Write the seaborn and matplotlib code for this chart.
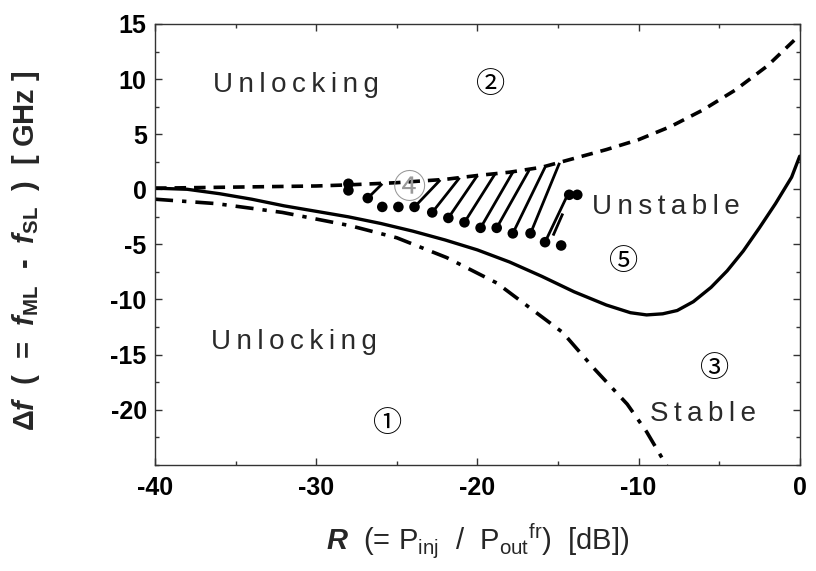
import numpy as np
import pandas as pd
import matplotlib
matplotlib.use("Agg")
import matplotlib.pyplot as plt
from matplotlib.ticker import MultipleLocator, FixedLocator
import seaborn as sns

# ---------------- data ----------------
dashed_x = [-40, -35, -30, -28, -25, -22, -20, -18, -16, -14, -12, -10, -8, -6, -4, -2, 0]
dashed_y = [0.1, 0.2, 0.3, 0.4, 0.6, 0.9, 1.25, 1.55, 2.0, 2.8, 3.6, 4.5, 5.7, 7.2, 9.0, 11.2, 14.0]

solid_x = [-40, -38, -36, -34, -32, -30, -28, -26, -24, -22, -20, -18, -16, -14, -12, -10.5,
           -9.5, -8.5, -7.6, -6.6, -5.5, -4.5, -3.5, -2.5, -1.5, -0.5, 0]
solid_y = [0.1, 0.0, -0.4, -0.9, -1.5, -2.0, -2.5, -3.1, -3.8, -4.6, -5.5, -6.6, -7.9, -9.3, -10.5, -11.2,
           -11.4, -11.3, -11.0, -10.2, -8.9, -7.4, -5.6, -3.5, -1.3, 1.1, 3.0]

dashdot_x = [-40, -36.2, -32.1, -27.9, -25, -21.9, -18.8, -15.7, -14.7, -12.8, -10.7, -9.5, -8.25]
dashdot_y = [-0.9, -1.3, -2.1, -3.3, -4.4, -6.2, -8.5, -11.9, -13.0, -16.2, -19.5, -22.0, -25.1]

dot_x = [-28, -28, -26.8, -25.9, -24.9, -23.9, -22.8, -21.8, -20.8, -19.8, -18.8, -17.8,
         -16.7, -15.8, -14.8, -14.3, -13.8]
dot_y = [0.5, -0.1, -0.8, -1.6, -1.6, -1.6, -2.1, -2.6, -3.0, -3.5, -3.5, -4.0,
         -4.0, -4.8, -5.1, -0.5, -0.5]

seg_x0 = [-26.8, -23.9, -22.8, -21.8, -20.8, -19.8, -18.8, -17.8, -16.7, -15.8, -15.3]
seg_y0 = [-0.8, -1.6, -2.1, -2.6, -3.0, -3.5, -3.5, -4.0, -4.0, -4.8, -4.2]
seg_x1 = [-25.9, -22.3, -21.1, -20.0, -18.9, -17.8, -16.8, -15.8, -14.9, -14.4, -14.7]
seg_y1 = [0.5, 0.85, 1.05, 1.25, 1.4, 1.55, 1.7, 2.0, 2.4, -0.5, -2.2]

labels_txt = ["Unlocking", "Unlocking", "Unstable", "Stable", "①", "②", "③", "④", "⑤"]
labels_x = [-36.4, -36.5, -12.9, -9.3, -25.6, -19.2, -5.3, -24.2, -10.9]
labels_y = [9.5, -13.9, -1.6, -20.4, -21.3, 9.5, -16.3, 0.1, -6.6]

# ---------------- style ----------------
sns.set_style("ticks")
plt.rcParams["font.family"] = ["Liberation Sans", "DejaVu Sans", "Noto Sans CJK JP"]
plt.rcParams["axes.unicode_minus"] = False
plt.rcParams["mathtext.fontset"] = "custom"
plt.rcParams["mathtext.rm"] = "Liberation Sans"
plt.rcParams["mathtext.it"] = "Liberation Sans:bold:italic"
plt.rcParams["mathtext.bf"] = "Liberation Sans:bold"

fig = plt.figure(figsize=(8.16, 5.71), dpi=100)
ax = fig.add_axes([0.19, 0.186, 0.79, 0.772])

df_d = pd.DataFrame({"x": dashed_x, "y": dashed_y})
df_s = pd.DataFrame({"x": solid_x, "y": solid_y})
df_dd = pd.DataFrame({"x": dashdot_x, "y": dashdot_y})

sns.lineplot(data=df_d, x="x", y="y", ax=ax, color="black", lw=2.6, sort=False)
ax.lines[-1].set_dashes((3.2, 2.2))
sns.lineplot(data=df_s, x="x", y="y", ax=ax, color="black", lw=2.4, sort=False)
sns.lineplot(data=df_dd, x="x", y="y", ax=ax, color="black", lw=2.6, sort=False)
ax.lines[-1].set_dashes((5, 2.5, 1.2, 2.5))

for x0, y0, x1, y1 in zip(seg_x0, seg_y0, seg_x1, seg_y1):
    ax.plot([x0, x1], [y0, y1], color="black", lw=2.0, solid_capstyle="butt")

sns.scatterplot(x=dot_x, y=dot_y, ax=ax, color="black", s=58, edgecolor="none", zorder=5)

TS = "\u2009"
for t, x, y in zip(labels_txt, labels_x, labels_y):
    if t in ("①", "②", "③", "④", "⑤"):
        col = "#999999" if t == "④" else "black"
        fs = 24 if t == "④" else 21
        ax.text(x, y, t, fontsize=fs, ha="center", va="center", color=col,
                family=["Noto Sans CJK JP", "DejaVu Sans"], zorder=6)
    else:
        ax.text(x, y, TS.join(t), fontsize=20, ha="left", va="center", color="#2a2a2a")

ax.set_xlim(-40, 0)
ax.set_ylim(-25, 15)
ax.xaxis.set_major_locator(MultipleLocator(10))
ax.xaxis.set_minor_locator(MultipleLocator(5))
ax.yaxis.set_major_locator(FixedLocator([-20, -15, -10, -5, 0, 5, 10, 15]))
ax.yaxis.set_minor_locator(MultipleLocator(2.5))
ax.tick_params(which="both", direction="in", top=True, right=True, colors="#333333")
ax.tick_params(which="major", length=5, width=1, labelsize=18)
ax.tick_params(axis="x", which="major", pad=8)
ax.tick_params(axis="y", which="major", pad=6)
ax.tick_params(which="minor", length=3, width=1)
for lab in ax.get_xticklabels() + ax.get_yticklabels():
    lab.set_fontweight("bold")
    lab.set_color("black")
for sp in ax.spines.values():
    sp.set_linewidth(1.0)
    sp.set_color("#333333")

ax.set_xlabel(r"$R$  (= P$_{\rm inj}$  /  P$_{\rm out}$$^{\rm fr}$)  [dB])", fontsize=21,
              fontweight="normal", labelpad=16)
ax.set_ylabel(r"Δ$f$  (  =  $f_{\mathbf{ML}}$  -  $f_{\mathbf{SL}}$  )  [ GHz ]", fontsize=21,
              fontweight="bold")
ax.yaxis.set_label_coords(-0.175, 0.485)

fig.savefig("out.png", dpi=100)
